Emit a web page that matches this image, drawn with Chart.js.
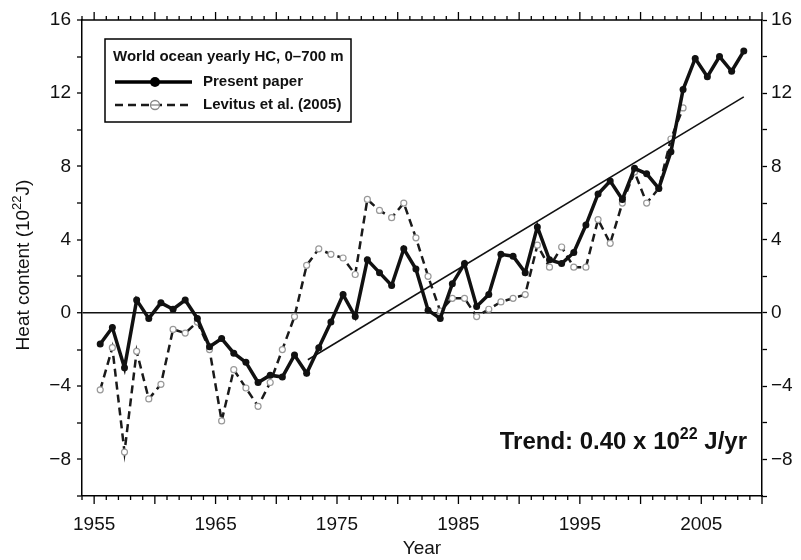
<!DOCTYPE html>
<html><head><meta charset="utf-8">
<script src="https://cdn.jsdelivr.net/npm/chart.js@4.4.1/dist/chart.umd.min.js"></script>
<style>html,body{margin:0;padding:0;background:#fff}#wrap{width:801px;height:560px}</style>
</head><body><div id="wrap"><canvas id="c" width="801" height="560"></canvas></div>
<script>
// Mid-year positions of the yearly values
const years = [1955.5,1956.5,1957.5,1958.5,1959.5,1960.5,1961.5,1962.5,1963.5,1964.5,
  1965.5,1966.5,1967.5,1968.5,1969.5,1970.5,1971.5,1972.5,1973.5,1974.5,
  1975.5,1976.5,1977.5,1978.5,1979.5,1980.5,1981.5,1982.5,1983.5,1984.5,
  1985.5,1986.5,1987.5,1988.5,1989.5,1990.5,1991.5,1992.5,1993.5,1994.5,
  1995.5,1996.5,1997.5,1998.5,1999.5,2000.5,2001.5,2002.5,2003.5,2004.5,
  2005.5,2006.5,2007.5,2008.5];
const presentPaper = [-1.7,-0.8,-3.0,0.7,-0.3,0.55,0.2,0.7,-0.3,-1.85,
  -1.4,-2.2,-2.7,-3.8,-3.4,-3.5,-2.3,-3.3,-1.9,-0.5,
  1.0,-0.2,2.9,2.2,1.5,3.5,2.4,0.15,-0.3,1.6,
  2.7,0.35,1.0,3.2,3.1,2.2,4.7,2.9,2.7,3.3,
  4.8,6.5,7.2,6.2,7.9,7.6,6.8,8.8,12.2,13.9,
  12.9,14.0,13.2,14.3];
const levitus2005 = [-4.2,-1.9,-7.6,-2.1,-4.7,-3.9,-0.9,-1.1,-0.5,-2.0,
  -5.9,-3.1,-4.1,-5.1,-3.8,-2.0,-0.2,2.6,3.5,3.2,
  3.0,2.1,6.2,5.6,5.2,6.0,4.1,2.0,0.1,0.8,
  0.8,-0.2,0.2,0.6,0.8,1.0,3.7,2.5,3.6,2.5,
  2.5,5.1,3.8,6.0,7.7,6.0,6.8,9.5,11.2];
const trendYears = [1972.6, 2008.5];
const trendValues = [-2.56, 11.8];
const xTickLabels = [1955,1965,1975,1985,1995,2005];
const yTickLabels = [-8,-4,0,4,8,12,16];

const FONT = "'Liberation Sans', Arial, sans-serif";
const fmtY = v => v < 0 ? '\u2212' + Math.abs(v) : String(v);

const pts = (xs, ys) => ys.map((v, i) => ({x: xs[i], y: v}));

const deco = {
  id: 'deco',
  afterDraw(chart) {
    const ctx = chart.ctx, a = chart.chartArea, xs = chart.scales.x;
    ctx.save();
    ctx.strokeStyle = '#000';
    ctx.lineWidth = 1.5;
    // top border
    ctx.beginPath(); ctx.moveTo(a.left, a.top); ctx.lineTo(a.right, a.top); ctx.stroke();
    // x ticks top and bottom
    ctx.lineWidth = 1.3;
    for (const t of xs.ticks) {
      const px = xs.getPixelForValue(t.value);
      const len = (t.value % 5 === 0) ? 8 : 4;
      ctx.beginPath();
      ctx.moveTo(px, a.bottom); ctx.lineTo(px, a.bottom + len);
      ctx.moveTo(px, a.top); ctx.lineTo(px, a.top - len);
      ctx.stroke();
    }
    ctx.fillStyle = '#111';
    // x title
    ctx.font = '19px ' + FONT;
    ctx.textAlign = 'center'; ctx.textBaseline = 'middle';
    ctx.fillText('Year', (a.left + a.right) / 2, 549);
    // y title with superscript
    ctx.save();
    ctx.translate(29, 265);
    ctx.rotate(-Math.PI / 2);
    ctx.textBaseline = 'alphabetic'; ctx.textAlign = 'left';
    const f1 = '19px ' + FONT, f2 = '13px ' + FONT;
    ctx.font = f1; const w1 = ctx.measureText('Heat content (10').width;
    ctx.font = f2; const w2 = ctx.measureText('22').width;
    ctx.font = f1; const w3 = ctx.measureText('J)').width;
    let sx = -(w1 + w2 + w3) / 2;
    ctx.font = f1; ctx.fillText('Heat content (10', sx, 0); sx += w1;
    ctx.font = f2; ctx.fillText('22', sx, -8); sx += w2;
    ctx.font = f1; ctx.fillText('J)', sx, 0);
    ctx.restore();
    // trend annotation
    {
      const b1 = 'bold 24px ' + FONT, b2 = 'bold 16px ' + FONT;
      ctx.textBaseline = 'alphabetic'; ctx.textAlign = 'left';
      ctx.font = b1; const t1 = ctx.measureText('Trend: 0.40 x 10').width;
      ctx.font = b2; const t2 = ctx.measureText('22').width;
      ctx.font = b1; const t3 = ctx.measureText(' J/yr').width;
      let tx = 747 - (t1 + t2 + t3); const ty = 449;
      ctx.font = b1; ctx.fillText('Trend: 0.40 x 10', tx, ty); tx += t1;
      ctx.font = b2; ctx.fillText('22', tx, ty - 10); tx += t2;
      ctx.font = b1; ctx.fillText(' J/yr', tx, ty);
    }
    // legend box
    ctx.fillStyle = '#fff';
    ctx.fillRect(105, 39, 246, 83);
    ctx.strokeStyle = '#000'; ctx.lineWidth = 1.5;
    ctx.strokeRect(105, 39, 246, 83);
    ctx.fillStyle = '#111';
    ctx.font = 'bold 15px ' + FONT;
    ctx.textBaseline = 'middle';
    ctx.fillText('World ocean yearly HC, 0\u2013700 m', 113, 57);
    ctx.fillText('Present paper', 203, 82);
    ctx.fillText('Levitus et al. (2005)', 203, 105);
    // legend symbols
    ctx.strokeStyle = '#000'; ctx.lineWidth = 3.5; ctx.setLineDash([]);
    ctx.beginPath(); ctx.moveTo(115, 82); ctx.lineTo(192, 82); ctx.stroke();
    ctx.fillStyle = '#000';
    ctx.beginPath(); ctx.arc(155, 82, 5, 0, Math.PI * 2); ctx.fill();
    ctx.lineWidth = 2.5; ctx.setLineDash([8, 5]); ctx.strokeStyle = '#1a1a1a';
    ctx.beginPath(); ctx.moveTo(115, 105); ctx.lineTo(192, 105); ctx.stroke();
    ctx.setLineDash([]);
    ctx.fillStyle = '#fff'; ctx.strokeStyle = '#888'; ctx.lineWidth = 1.3;
    ctx.beginPath(); ctx.arc(155, 105, 4.5, 0, Math.PI * 2); ctx.fill(); ctx.stroke();
    ctx.beginPath(); ctx.moveTo(151, 105); ctx.lineTo(159, 105); ctx.stroke();
    ctx.restore();
  }
};

new Chart(document.getElementById('c'), {
  type: 'scatter',
  data: {
    datasets: [
      {
        label: 'Present paper',
        data: pts(years, presentPaper),
        showLine: true,
        borderColor: '#111', backgroundColor: '#111',
        borderWidth: 3.5,
        pointRadius: 3.5, pointBackgroundColor: '#111', pointBorderColor: '#111', pointBorderWidth: 0,
        tension: 0
      },
      {
        label: 'Trend',
        data: pts(trendYears, trendValues),
        showLine: true,
        borderColor: '#111', borderWidth: 1.6,
        pointRadius: 0
      },
      {
        label: 'Levitus et al. (2005)',
        data: pts(years, levitus2005),
        showLine: true,
        borderColor: '#1a1a1a', borderWidth: 2.5, borderDash: [8, 5],
        pointRadius: 3, pointBackgroundColor: '#fff', pointBorderColor: '#999', pointBorderWidth: 1.2,
        tension: 0
      }
    ]
  },
  options: {
    responsive: false,
    animation: false,
    events: [],
    layout: { padding: { top: 20, left: 0, right: 0, bottom: 0 } },
    plugins: { legend: { display: false }, tooltip: { enabled: false } },
    scales: {
      x: {
        type: 'linear', position: 'bottom', min: 1954, max: 2010,
        afterFit: s => { s.height = 64; },
        grid: { display: true, drawOnChartArea: false, drawTicks: false },
        border: { display: true, color: '#000', width: 1.5 },
        ticks: {
          stepSize: 1, autoSkip: false, maxRotation: 0, minRotation: 0, padding: 17,
          color: '#111', font: { family: FONT, size: 19 },
          callback: v => xTickLabels.includes(v) ? String(v) : ''
        }
      },
      y: {
        type: 'linear', position: 'left', min: -10, max: 16,
        afterFit: s => { s.width = 82; },
        grid: {
          drawOnChartArea: true, drawTicks: true, tickLength: 5,
          color: c => (c.tick && c.tick.value === 0) ? '#111' : 'rgba(0,0,0,0)',
          lineWidth: c => (c.tick && c.tick.value === 0) ? 1.5 : 0,
          tickColor: '#000', tickWidth: 1.3
        },
        border: { display: true, color: '#000', width: 1.5 },
        ticks: {
          stepSize: 2, autoSkip: false, padding: 6,
          color: '#111', font: { family: FONT, size: 19 },
          callback: v => yTickLabels.includes(v) ? fmtY(v) : ''
        }
      },
      y2: {
        type: 'linear', position: 'right', min: -10, max: 16,
        afterFit: s => { s.width = 39; },
        grid: { drawOnChartArea: false, drawTicks: true, tickLength: 5, tickColor: '#000', tickWidth: 1.3 },
        border: { display: true, color: '#000', width: 1.5 },
        ticks: {
          stepSize: 2, autoSkip: false, padding: 4,
          color: '#111', font: { family: FONT, size: 19 },
          callback: v => yTickLabels.includes(v) ? fmtY(v) : ''
        }
      }
    }
  },
  plugins: [deco]
});
</script></body></html>
